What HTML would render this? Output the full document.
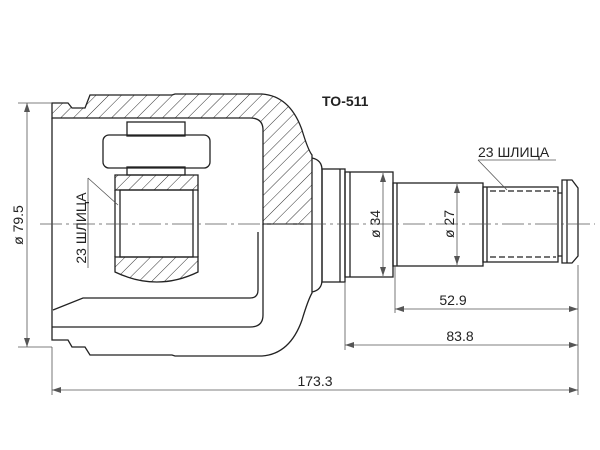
<!DOCTYPE html>
<html><head><meta charset="utf-8"><style>body{margin:0;background:#fff}svg{display:block}</style></head><body>
<svg width="600" height="450" viewBox="0 0 600 450" xmlns="http://www.w3.org/2000/svg" font-family="Liberation Sans, sans-serif">
<defs>
<pattern id="h" patternUnits="userSpaceOnUse" width="9" height="9" patternTransform="rotate(45)">
<line x1="0" y1="0" x2="0" y2="9" stroke="#333" stroke-width="1"/></pattern>
</defs>
<g fill="none" stroke="#222" stroke-width="1.3">
<path d="M52,103 L68,103 L72,108 L85,108 L90,95 L172,95 L175,94 L262,94 Q290,96 302,130 Q308,150 312,155 L312,224 L263,224 L263,130 Q263,118 250,118 L52,118 Z" fill="url(#h)"/>
<path d="M52,118 L52,340 L68,340 L72,347 L85,347 L90,355 L172,355 L175,356 L262,356 Q290,354 302,320 Q308,300 312,293 L312,224"/>
<path d="M263,224 L263,315 Q263,327 250,327 L52,327"/>
<path d="M53,310 L83,298 L250,298 Q258,298 258,290 L258,232"/>
<path d="M312,158 Q322,160 322,170 L322,280 Q322,290 312,292"/>
<rect x="322" y="169" width="23" height="113"/>
<path d="M340,169 L340,282"/>
<rect x="345" y="172" width="48" height="105"/>
<line x1="350" y1="172" x2="350" y2="277"/>
<rect x="393" y="183" width="90" height="83"/>
<line x1="397" y1="183" x2="397" y2="266"/>
<rect x="483" y="187" width="75" height="75"/>
<line x1="487" y1="187" x2="487" y2="262"/>
<path d="M558,193 L562,193 M558,256 L562,256"/>
<path d="M562,180 L572,180 L578,188 L578,256 L572,263 L562,263 Z"/>
<line x1="567" y1="180" x2="567" y2="263"/>
<path d="M490,191 L556,191 M490,257 L556,257" stroke-dasharray="6,3"/>
<rect x="127" y="122" width="58" height="14"/>
<rect x="103" y="135" width="107" height="33" rx="6"/>
<rect x="127" y="167" width="58" height="8"/>
<path d="M115,175 L198,175 L198,190 L115,190 Z" fill="url(#h)"/>
<path d="M115,257 L198,257 L198,272 Q157,292 115,272 Z" fill="url(#h)"/>
<path d="M115,190 L115,257 M198,190 L198,257"/>
<rect x="120" y="190" width="73" height="67"/>
</g>
<line x1="40" y1="224" x2="595" y2="224" stroke="#555" stroke-width="0.8" stroke-dasharray="22,4,3,4"/>
<g stroke="#555" stroke-width="0.8" fill="none">
<line x1="18" y1="103" x2="52" y2="103"/><line x1="18" y1="347" x2="52" y2="347"/>
<line x1="27" y1="103" x2="27" y2="347"/>
<line x1="52" y1="347" x2="52" y2="395"/>
<line x1="578" y1="265" x2="578" y2="395"/>
<line x1="395" y1="266" x2="395" y2="313"/>
<line x1="345" y1="282" x2="345" y2="350"/>
<line x1="395" y1="309" x2="578" y2="309"/>
<line x1="345" y1="345" x2="578" y2="345"/>
<line x1="52" y1="390" x2="578" y2="390"/>
<line x1="383" y1="173" x2="383" y2="276"/>
<line x1="457" y1="184" x2="457" y2="265"/>
<path d="M478,160 L556,160 M478,160 L507,190"/>
<path d="M88,178 L118,205 M88,178 L88,268"/>
</g>
<g fill="#555">
<path d="M27,103 l-3,9 h6z M27,347 l-3,-9 h6z"/>
<path d="M395,309 l9,-3 v6z M578,309 l-9,-3 v6z"/>
<path d="M345,345 l9,-3 v6z M578,345 l-9,-3 v6z"/>
<path d="M52,390 l9,-3 v6z M578,390 l-9,-3 v6z"/>
<path d="M383,173 l-3,9 h6z M383,276 l-3,-9 h6z"/>
<path d="M457,184 l-3,9 h6z M457,265 l-3,-9 h6z"/>
</g>
<g fill="#222" font-size="14">
<text x="322" y="106" font-weight="bold" font-size="14">TO-511</text>
<text x="478" y="157">23 ШЛИЦА</text>
<text x="453" y="305" text-anchor="middle">52.9</text>
<text x="460" y="341" text-anchor="middle">83.8</text>
<text x="315" y="386" text-anchor="middle">173.3</text>
<text transform="translate(23,225) rotate(-90)" text-anchor="middle">ø 79.5</text>
<text transform="translate(86,228) rotate(-90)" text-anchor="middle">23 ШЛИЦА</text>
<text transform="translate(380,224) rotate(-90)" text-anchor="middle">ø 34</text>
<text transform="translate(454,224) rotate(-90)" text-anchor="middle">ø 27</text>
</g>
</svg>
</body></html>
